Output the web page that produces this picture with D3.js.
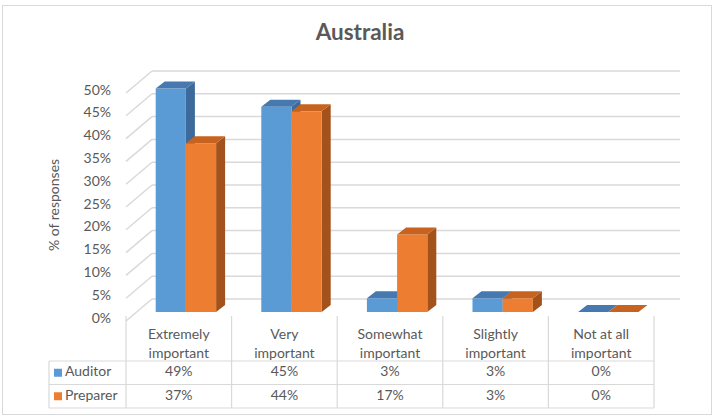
<!DOCTYPE html>
<html>
<head>
<meta charset="utf-8">
<script src="https://cdn.jsdelivr.net/npm/d3@7/dist/d3.min.js"></script>
<style>
  html, body { margin: 0; padding: 0; background: #fff; }
  svg { display: block; }
  text { font-family: Lato, "Liberation Sans", sans-serif; fill: #595959; }
</style>
</head>
<body>
<svg id="chart" width="718" height="419"></svg>
<script>
// Importance ratings, % of responses
const categories = ["Extremely important", "Very important", "Somewhat important", "Slightly important", "Not at all important"];
const categoryLines = [["Extremely", "important"], ["Very", "important"], ["Somewhat", "important"], ["Slightly", "important"], ["Not at all", "important"]];
const seriesNames = ["Auditor", "Preparer"];
const auditor = [49, 45, 3, 3, 0];
const preparer = [37, 44, 17, 3, 0];
const yTicks = [0, 5, 10, 15, 20, 25, 30, 35, 40, 45, 50];
const chartTitle = "Australia";
const yTitle = "% of responses";

const palette = {
  Auditor:  { front: "#5B9BD5", top: "#4679B0", side: "#3C6A9A" },
  Preparer: { front: "#ED7D31", top: "#C8631F", side: "#A3521B" }
};
const gridColor = "#D9D9D9";

const svg = d3.select("#chart");

// outer frame
svg.append("rect")
  .attr("x", 2.5).attr("y", 5.5).attr("width", 709).attr("height", 409)
  .attr("fill", "none").attr("stroke", "#D9D9D9").attr("stroke-width", 1);

// scales: x over the table columns, y for the bar front faces
const x = d3.scaleBand().domain(categories).range([126, 654]);
const y = d3.scaleLinear().domain([0, 50]).range([312, 84]);

// oblique depth of the walls and of the bars
const wallDX = 26, wallBack = -13, wallFront = 9;
const barDX = 9, barDY = 7;

// back-wall gridlines and left side-wall lines
const grid = svg.append("g").attr("stroke", gridColor).attr("stroke-width", 1.5).attr("fill", "none");
yTicks.forEach(v => {
  const yb = y(v) + wallBack;
  grid.append("line")
    .attr("x1", 126 + wallDX).attr("x2", 654 + wallDX)
    .attr("y1", yb).attr("y2", yb);
  grid.append("line")
    .attr("x1", 126).attr("y1", y(v) + wallFront)
    .attr("x2", 126 + wallDX).attr("y2", yb);
});

// y tick labels on the front edge of the side wall
svg.append("g").selectAll("text").data(yTicks).join("text")
  .attr("x", 111).attr("y", v => y(v) + 7)
  .attr("text-anchor", "end").attr("dominant-baseline", "middle")
  .attr("font-size", 14)
  .text(v => v + "%");

// y axis title
svg.append("text")
  .attr("transform", "translate(55,205) rotate(-90)")
  .attr("text-anchor", "middle").attr("dominant-baseline", "middle")
  .attr("font-size", 14)
  .text(yTitle);

// title
svg.append("text")
  .attr("x", 360).attr("y", 40)
  .attr("text-anchor", "middle")
  .attr("font-size", 22.5).attr("font-weight", "bold")
  .text(chartTitle);

// 3D columns
const barW = 30.2, groupOffset = 29.7;
const series = [
  { name: "Auditor", values: auditor },
  { name: "Preparer", values: preparer }
];
const bars = svg.append("g");
categories.forEach((c, i) => {
  series.forEach((s, k) => {
    const v = s.values[i];
    const x0 = x(c) + groupOffset + k * barW, x1 = x0 + barW;
    const yt = y(v), yb = y(0);
    const col = palette[s.name];
    const g = bars.append("g");
    // side face
    g.append("path")
      .attr("d", `M${x1},${yt} L${x1 + barDX},${yt - barDY} L${x1 + barDX},${yb - barDY} L${x1},${yb} Z`)
      .attr("fill", col.side);
    // front face
    g.append("rect")
      .attr("x", x0).attr("y", yt).attr("width", barW).attr("height", yb - yt)
      .attr("fill", col.front);
    // top face
    g.append("path")
      .attr("d", `M${x0},${yt} L${x0 + barDX},${yt - barDY} L${x1 + barDX},${yt - barDY} L${x1},${yt} Z`)
      .attr("fill", col.top);
  });
});

// data table
const rowTop = 361, rowH = 23.5;
const table = svg.append("g").attr("stroke", gridColor).attr("stroke-width", 1.2).attr("fill", "none");
// column separators
const colEdges = categories.map(c => x(c)).concat([x(categories[categories.length - 1]) + x.bandwidth()]);
colEdges.forEach(cx => {
  table.append("line").attr("x1", cx).attr("x2", cx).attr("y1", 316).attr("y2", rowTop + 2 * rowH);
});
// row separators
[0, 1, 2].forEach(r => {
  table.append("line").attr("x1", 49).attr("x2", 654)
    .attr("y1", rowTop + r * rowH).attr("y2", rowTop + r * rowH);
});
table.append("line").attr("x1", 49).attr("x2", 49).attr("y1", rowTop).attr("y2", rowTop + 2 * rowH);

// category headers
categories.forEach((c, i) => {
  const t = svg.append("text")
    .attr("x", x(c) + x.bandwidth() / 2)
    .attr("text-anchor", "middle")
    .attr("font-size", 14);
  categoryLines[i].forEach((line, j) => {
    t.append("tspan").attr("x", x(c) + x.bandwidth() / 2).attr("y", 339 + j * 19).text(line);
  });
});

// row labels with legend keys, and values
series.forEach((s, k) => {
  const cy = rowTop + k * rowH + rowH / 2;
  svg.append("rect")
    .attr("x", 54).attr("y", cy - 4).attr("width", 8).attr("height", 8)
    .attr("fill", palette[s.name].front);
  svg.append("text")
    .attr("x", 65).attr("y", cy)
    .attr("dominant-baseline", "middle")
    .attr("font-size", 14)
    .text(s.name);
  svg.append("g").selectAll("text").data(s.values).join("text")
    .attr("x", (d, i) => x(categories[i]) + x.bandwidth() / 2)
    .attr("y", cy)
    .attr("text-anchor", "middle").attr("dominant-baseline", "middle")
    .attr("font-size", 14)
    .text(d => d + "%");
});
</script>
</body>
</html>
